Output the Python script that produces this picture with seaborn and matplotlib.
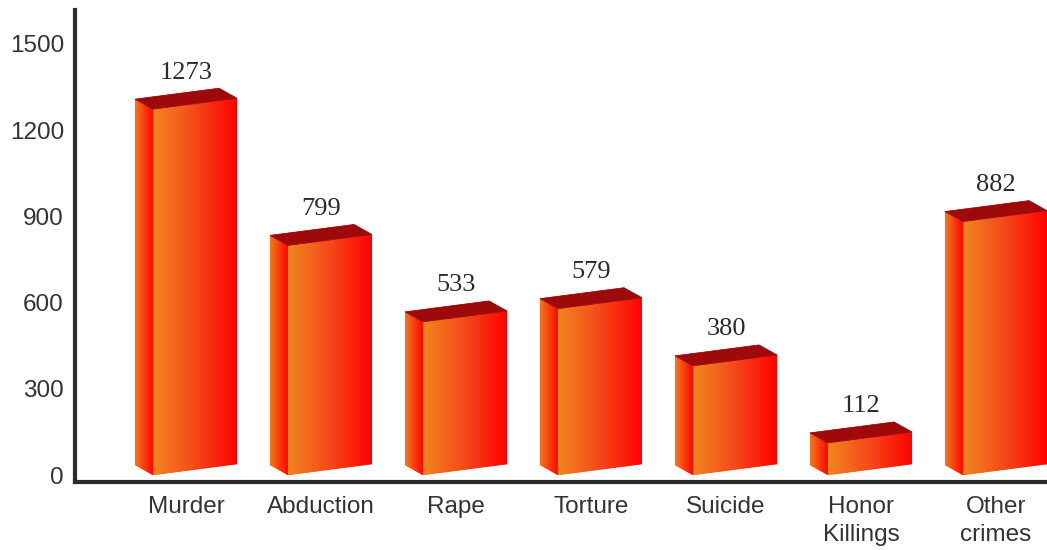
import numpy as np
import matplotlib
matplotlib.use("Agg")
import matplotlib.pyplot as plt
from matplotlib.colors import LinearSegmentedColormap
from matplotlib.patches import Polygon
import seaborn as sns

crimes = ["Murder", "Abduction", "Rape", "Torture", "Suicide", "Honor\nKillings", "Other\ncrimes"]
cases = [1273, 799, 533, 579, 380, 112, 882]
y_ticks = [0, 300, 600, 900, 1200, 1500]

sns.set_style("white")
plt.rcParams["font.family"] = ["Liberation Sans", "DejaVu Sans"]

fig = plt.figure(figsize=(10.47, 5.5), dpi=100)
ax = fig.add_axes([75 / 1047, 68 / 550, 972 / 1047, 472 / 550])

sns.barplot(x=crimes, y=cases, width=0.756, color="red", ax=ax)

# faces of the fake 3d boxes
front_cmap = LinearSegmentedColormap.from_list("front", ["#F0861E", "#F5481A", "#FF0000"])
side_cmap = LinearSegmentedColormap.from_list("side", ["#F07A1E", "#FF0500"])
top_color = "#9E0A0A"

depth = 0.133   # side face width, category units
slant = 38      # front face rises to the right (data units)
rise = 35       # back edge sits higher
grad = np.linspace(0, 1, 256).reshape(1, -1)

for bar, v in zip(ax.patches, cases):
    x0 = bar.get_x()
    w = bar.get_width()
    h = bar.get_height()
    xf = x0 + depth
    x1 = x0 + w
    bar.set_visible(False)

    shape = [(x0, rise), (xf, 0), (x1, slant), (x1, h + slant),
             (x1 - depth, h + slant + rise), (x0, h + rise)]
    ax.add_patch(Polygon(shape, closed=True, facecolor="#F5481A", edgecolor="none", zorder=1.9))

    front = [(xf, 0), (x1, slant), (x1, h + slant), (xf, h)]
    side = [(x0, rise), (xf, 0), (xf, h), (x0, h + rise)]
    top = [(x0, h + rise), (xf, h), (x1, h + slant), (x1 - depth, h + slant + rise)]

    for pts, cmap in [(front, front_cmap), (side, side_cmap)]:
        poly = Polygon(pts, closed=True, facecolor="none", edgecolor="none")
        ax.add_patch(poly)
        xs = [p[0] for p in pts]
        ys = [p[1] for p in pts]
        im = ax.imshow(grad, cmap=cmap, extent=[min(xs), max(xs), min(ys), max(ys)],
                       aspect="auto", interpolation="bilinear", zorder=2)
        im.set_clip_path(poly)
    ax.add_patch(Polygon(top, closed=True, facecolor=top_color, edgecolor=top_color,
                         linewidth=0.5, zorder=2.1))

    ax.text(x0 + w / 2, h + slant + rise + 54, f"{v}", ha="center", va="center",
            fontsize=19, color="#2a2a2a", family=["Liberation Serif", "DejaVu Serif"])

ax.set_xlim(-0.822, 6.378)
ax.set_ylim(-24, 1618)
ax.set_yticks(y_ticks)
ax.set_xlabel("")
ax.set_ylabel("")

sns.despine(ax=ax)
for side_name in ["left", "bottom"]:
    ax.spines[side_name].set_linewidth(3)
    ax.spines[side_name].set_color("#2b2b2b")

ax.tick_params(axis="both", length=0, labelsize=17.5, colors="#333333")
ax.tick_params(axis="x", pad=10)
ax.tick_params(axis="y", pad=8)
for lbl in ax.get_xticklabels():
    lbl.set_linespacing(1.35)

fig.savefig("out.png", dpi=100)
